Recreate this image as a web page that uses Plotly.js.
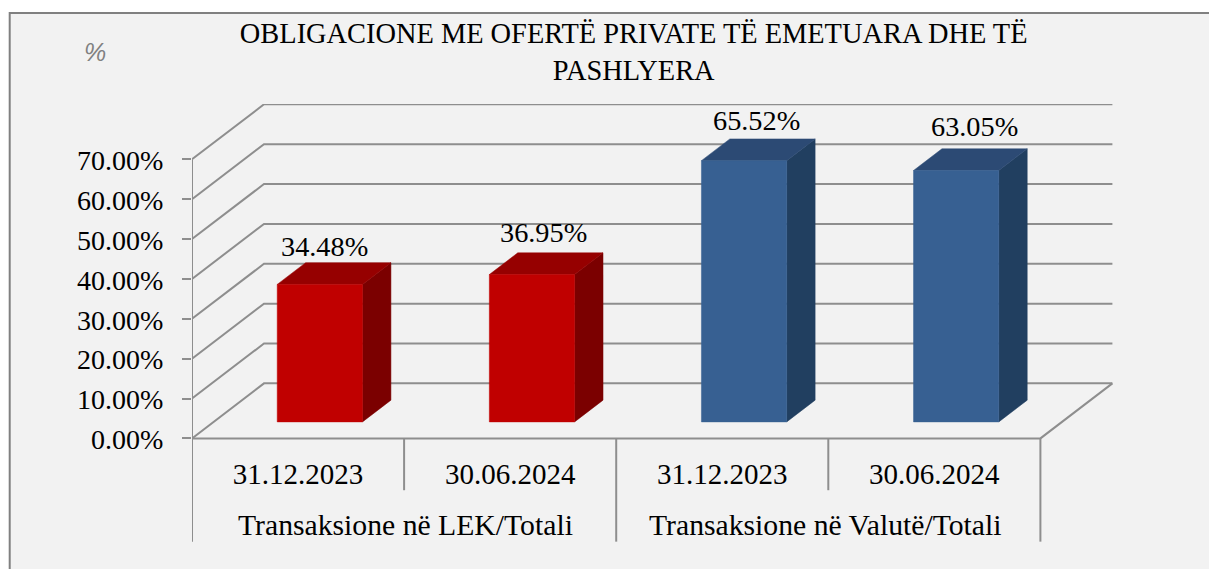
<!DOCTYPE html>
<html><head><meta charset="utf-8">
<script src="https://cdn.plot.ly/plotly-3.0.1.min.js"></script>
<style>html,body{margin:0;padding:0;background:#fff}#c{width:1209px;height:569px}</style>
</head><body><div id="c"></div>
<script>
const dates = ["31.12.2023","30.06.2024","31.12.2023","30.06.2024"];
const groups = ["Transaksione në LEK/Totali","Transaksione në Valutë/Totali"];
const values = [34.48,36.95,65.52,63.05];
const yTicks = [0,10,20,30,40,50,60,70];
const titleText = "OBLIGACIONE ME OFERTË PRIVATE TË EMETUARA DHE TË<br>PASHLYERA";

const W=1209,H=569,PX0=192.3,PY0=438.3,PXU=212.1,PYU=3.986;
const BACKX=72/PXU, BACKY=55/PYU;
const D0=0.30, D1=0.695, BW=0.402;
const YLOW=-30;
const ML=PX0, MR=W-1113.3, MT=104, MB=H-(PY0-YLOW*PYU);
const PW=W-ML-MR, PH=H-MT-MB;
const xMax=PW/PXU, yMax=(PY0-MT)/PYU;
const serif="'Liberation Serif','Times New Roman',serif";
const GRID="#8e8e8e";
const px=(x,d)=>x+d*BACKX, py=(y,d)=>y+d*BACKY;

const traces=[];
function line(xs,ys,w){traces.push({type:'scatter',mode:'lines',x:xs,y:ys,cliponaxis:false,hoverinfo:'skip',showlegend:false,line:{color:GRID,width:w||2}});}
yTicks.forEach(v=>{ line([0,px(0,1),px(4,1)],[v,py(v,1),py(v,1)]); });
line([0,0],[0,70]);
line([0,4,px(4,1)],[0,0,py(0,1)]);
const sepLow=-25.9, sepHigh=-13;
[0,2,4].forEach(x=>line([x,x],[0,sepLow]));
[1,3].forEach(x=>line([x,x],[0,sepHigh]));

const front=["#C00000","#C00000","#376092","#376092"];
const topC=["#960000","#960000","#2C4A74","#2C4A74"];
const sideC=["#7B0000","#7B0000","#213F60","#213F60"];
function poly(xs,ys,c){traces.push({type:'scatter',mode:'lines',fill:'toself',fillcolor:c,x:xs,y:ys,cliponaxis:false,hoverinfo:'skip',showlegend:false,line:{color:c,width:0.5}});}
values.forEach((v,i)=>{
  const cx=i+0.5+D0*BACKX+0.001, l=cx-BW/2, r=cx+BW/2, dd=D1-D0;
  const b=py(0,D0), t=py(v,D0);
  poly([r,r+dd*BACKX,r+dd*BACKX,r,r],[b,b+dd*BACKY,t+dd*BACKY,t,b],sideC[i]);
  poly([l,r,r+dd*BACKX,l+dd*BACKX,l],[t,t,t+dd*BACKY,t+dd*BACKY,t],topC[i]);
  poly([l,r,r,l,l],[b,b,t,t,b],front[i]);
});

const nudgeX=[5,12,12.5,19], nudgeY=[-1,3,1,5];
const annotations=values.map((v,i)=>({
  x:i+0.5+D0*BACKX, y:py(v,D1), xref:'x', yref:'y', text:v.toFixed(2)+'%', showarrow:false,
  xanchor:'center', yanchor:'bottom', xshift:nudgeX[i], yshift:nudgeY[i], font:{family:serif,size:28.3,color:'#000'}
}));
const groupNudge=[1,-3];
groups.forEach((g,i)=>annotations.push({x:1+2*i,y:-21.8,xref:'x',yref:'y',text:g,showarrow:false,xanchor:'center',yanchor:'middle',xshift:groupNudge[i],font:{family:serif,size:29.7,color:'#000'}}));
annotations.push({x:(95-ML)/PW,y:1+(MT-52)/PH,xref:'paper',yref:'paper',text:'<i>%</i>',showarrow:false,xanchor:'center',yanchor:'middle',font:{family:"'Liberation Sans',Arial,sans-serif",size:25,color:'#808080'}});

const layout={
  width:W,height:H,autosize:false,showlegend:false,
  paper_bgcolor:'#fff',plot_bgcolor:'rgba(0,0,0,0)',
  margin:{l:ML,r:MR,t:MT,b:MB,pad:0},
  title:{text:titleText,xref:'paper',x:(634-ML)/PW,xanchor:'center',yref:'container',y:1-43/H,yanchor:'top',font:{family:serif,size:28.4,color:'#000'}},
  xaxis:{range:[0,xMax],anchor:'free',position:(-YLOW*PYU)/PH,tickmode:'array',tickvals:dates.map((d,i)=>i+0.5),ticktext:dates,showgrid:false,zeroline:false,showline:false,ticks:'',ticklabelstandoff:16,tickfont:{family:serif,size:29,color:'#000'}},
  yaxis:{range:[YLOW,yMax],tickmode:'array',tickvals:yTicks,ticktext:yTicks.map(v=>v.toFixed(2)+'%'),showgrid:false,zeroline:false,showline:false,ticks:'outside',ticklen:9,tickwidth:2,tickcolor:GRID,ticklabelstandoff:13,ticklabelshift:1,tickfont:{family:serif,size:28,color:'#000'}},
  annotations:annotations,
  shapes:[{type:'rect',layer:'below',xref:'paper',yref:'paper',
    x0:(10-ML)/PW,x1:(1260-ML)/PW,y0:-(MB+40)/PH,y1:1+(MT-13)/PH,
    fillcolor:'#f2f2f2',line:{color:'#808080',width:2}}]
};
Plotly.newPlot('c',traces,layout,{displayModeBar:false,staticPlot:true});
</script></body></html>
